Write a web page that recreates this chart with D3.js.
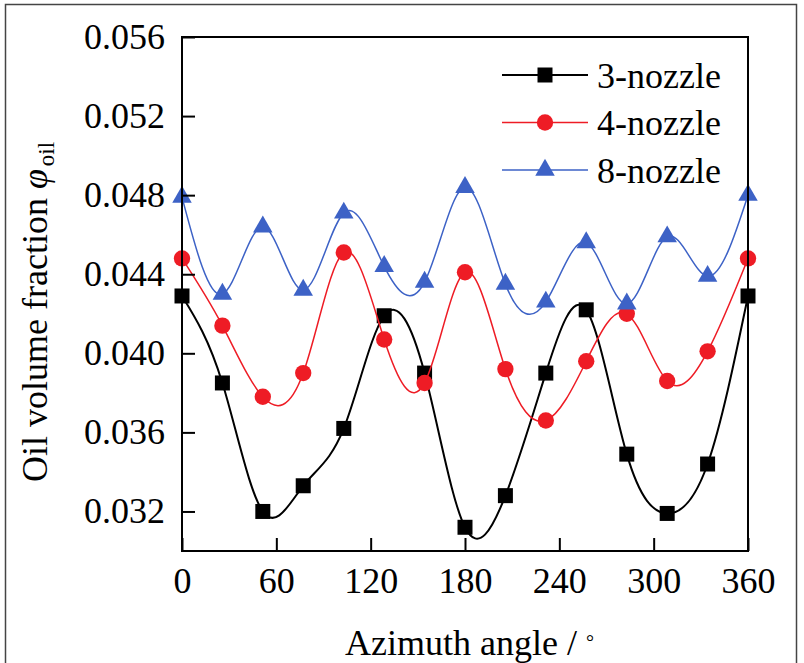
<!DOCTYPE html>
<html>
<head>
<meta charset="utf-8">
<script src="https://cdn.jsdelivr.net/npm/d3@7"></script>
<style>
  body { margin: 0; background: #fff; }
  text { font-family: "Liberation Serif", "Times New Roman", serif; fill: #000; }
</style>
</head>
<body>
<script>
// azimuth angles of the sampled points (degrees)
const angles = [0, 25.7, 51.4, 77.1, 102.9, 128.6, 154.3, 180, 205.7, 231.4, 257.1, 282.9, 308.6, 334.3, 360];

// oil volume fraction per configuration
const nozzle3 = [0.0429, 0.0385, 0.0320, 0.0333, 0.0362, 0.0419, 0.0390, 0.0312, 0.0328, 0.0390, 0.0422, 0.0349, 0.0319, 0.0344, 0.0429];
const nozzle4 = [0.0448, 0.0414, 0.0378, 0.0390, 0.0451, 0.0407, 0.0385, 0.0441, 0.0392, 0.0366, 0.0396, 0.0420, 0.0386, 0.0401, 0.0448];
const nozzle8 = [0.0479, 0.0430, 0.0464, 0.0432, 0.0471, 0.0444, 0.0436, 0.0484, 0.0435, 0.0426, 0.0456, 0.0425, 0.0459, 0.0439, 0.0480];

const seriesNames = ["3-nozzle", "4-nozzle", "8-nozzle"];
const xTicks = [0, 60, 120, 180, 240, 300, 360];
const yTicks = [0.032, 0.036, 0.040, 0.044, 0.048, 0.052, 0.056];

const w = 804;
const h = 663;
const plotLeft = 182, plotRight = 748, plotTop = 37, plotBottom = 551;

const series = [
  { name: seriesNames[0], values: nozzle3, color: "#000000", symbol: d3.symbolSquare, size: 225, width: 2 },
  { name: seriesNames[1], values: nozzle4, color: "#ee1c25", symbol: d3.symbolCircle, size: 210, width: 1.5 },
  { name: seriesNames[2], values: nozzle8, color: "#3d62c6", symbol: d3.symbolTriangle, size: 165, width: 1.5 }
];

const xScale = d3.scaleLinear().domain([0, 360]).range([plotLeft, plotRight]);
const yScale = d3.scaleLinear().domain([0.030, 0.056]).range([plotBottom, plotTop]);

const svg = d3.select("body").append("svg").attr("width", w).attr("height", h);

// outer frame
svg.append("rect")
  .attr("x", 5.5).attr("y", 4.5)
  .attr("width", 791).attr("height", 700)
  .attr("fill", "none").attr("stroke", "#444").attr("stroke-width", 1.5);

// series: line then markers
const line = d3.line()
  .x((d) => xScale(d[0]))
  .y((d) => yScale(d[1]))
  .curve(d3.curveNatural);

series.forEach((s) => {
  const pts = angles.map((a, i) => [a, s.values[i]]);
  const g = svg.append("g");
  g.append("path")
    .datum(pts)
    .attr("d", line)
    .attr("fill", "none")
    .attr("stroke", s.color)
    .attr("stroke-width", s.width);
  g.selectAll("path.mark")
    .data(pts)
    .enter()
    .append("path")
    .attr("class", "mark")
    .attr("d", d3.symbol(s.symbol, s.size))
    .attr("transform", (d) => `translate(${xScale(d[0])},${yScale(d[1])})`)
    .attr("fill", s.color);
});

// x axis
const xAxis = d3.axisBottom(xScale).tickValues(xTicks).tickSize(-13).tickPadding(16);
svg.append("g")
  .attr("class", "x axis")
  .attr("transform", `translate(0, ${plotBottom})`)
  .call(xAxis)
  .call((g) => g.select(".domain").remove())
  .call((g) => g.selectAll("line").attr("stroke-width", 2))
  .call((g) => g.selectAll("text").attr("font-size", 36).attr("font-family", null));

// y axis
const yAxis = d3.axisLeft(yScale).tickValues(yTicks).tickFormat(d3.format(".3f")).tickSize(-13).tickPadding(17);
svg.append("g")
  .attr("class", "y axis")
  .attr("transform", `translate(${plotLeft}, 0)`)
  .call(yAxis)
  .call((g) => g.select(".domain").remove())
  .call((g) => g.selectAll("line").attr("stroke-width", 2))
  .call((g) => g.selectAll("text").attr("font-size", 36).attr("font-family", null));

// plot frame
svg.append("rect")
  .attr("x", plotLeft).attr("y", plotTop)
  .attr("width", plotRight - plotLeft).attr("height", plotBottom - plotTop)
  .attr("fill", "none").attr("stroke", "#000").attr("stroke-width", 2);

// axis titles
svg.append("text")
  .attr("x", 345).attr("y", 655)
  .attr("font-size", 36)
  .text("Azimuth angle / ")
  .append("tspan")
  .attr("font-size", 20)
  .attr("dy", -6)
  .text("°");

const yTitle = svg.append("text")
  .attr("transform", "translate(47, 482) rotate(-90)")
  .attr("font-size", 36);
yTitle.append("tspan").text("Oil volume fraction ");
yTitle.append("tspan").attr("font-style", "italic").text("φ");
yTitle.append("tspan").attr("font-size", 23).attr("dx", 3).attr("dy", 7).text("oil");

// legend
const legend = svg.append("g").attr("transform", "translate(502, 75)");
series.forEach((s, i) => {
  const row = legend.append("g").attr("transform", `translate(0, ${i * 47.5})`);
  row.append("line")
    .attr("x1", 0).attr("x2", 86)
    .attr("stroke", s.color).attr("stroke-width", s.width);
  row.append("path")
    .attr("d", d3.symbol(s.symbol, s.size))
    .attr("transform", "translate(43, 0)")
    .attr("fill", s.color);
  row.append("text")
    .attr("x", 95).attr("dy", "0.35em")
    .attr("font-size", 36)
    .text(s.name);
});
</script>
</body>
</html>
